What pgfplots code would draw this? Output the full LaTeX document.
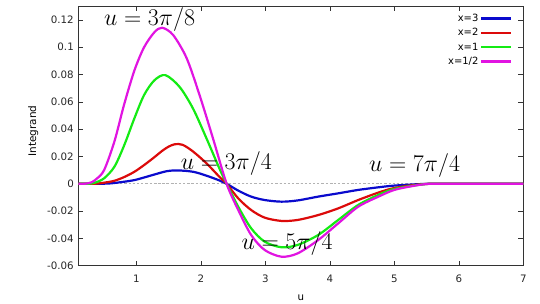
\RequirePackage{fix-cm}
\documentclass[border=0pt]{standalone}
\usepackage{fontspec}
\setmainfont{DejaVu Sans}
\usepackage{pgfplots}
\pgfplotsset{compat=1.18}
\definecolor{cblue}{RGB}{10,10,205}
\definecolor{cred}{RGB}{220,10,10}
\definecolor{cgreen}{RGB}{20,235,20}
\definecolor{cmag}{RGB}{225,20,225}
\begin{document}
\begin{tikzpicture}
\useasboundingbox (0,0) rectangle (540bp,304bp);
\begin{axis}[
  at={(78.3bp,38.3bp)}, anchor=south west,
  scale only axis, width=445bp, height=259.4bp,
  xmin=0.1, xmax=7, ymin=-0.06, ymax=0.13,
  xtick={1,2,3,4,5,6,7},
  ytick={-0.06,-0.04,-0.02,0,0.02,0.04,0.06,0.08,0.1,0.12},
  yticklabels={-0.06,-0.04,-0.02,0,0.02,0.04,0.06,0.08,0.1,0.12},
  /pgf/number format/assume math mode=true,
  tick align=inside, major tick length=5bp,
  tick style={black!80, line width=0.6bp},
  axis line style={black!80, line width=0.8bp},
  tick label style={font=\fontsize{10.3}{12}\selectfont, text=black!85},
  xticklabel style={yshift=-6bp},
  yticklabel style={xshift=-1bp},
  xlabel={u}, ylabel={Integrand},
  xlabel style={at={(axis description cs:0.5,0)}, anchor=center, yshift=-32bp, font=\fontsize{10.3}{12}\selectfont},
  ylabel style={at={(axis description cs:0,0.5)}, anchor=center, xshift=5bp, yshift=45bp, font=\fontsize{10.5}{12}\selectfont},
  legend cell align=right, legend plot pos=right,
  legend image code/.code={\draw[#1] (0bp,0bp) -- (30bp,0bp);},
  legend style={draw=none, fill=none, at={(rel axis cs:1,1)}, anchor=north east, xshift=-8bp, yshift=-4bp,
    font=\fontsize{10}{11}\selectfont, row sep=2.5bp, nodes={inner sep=1.5bp}},
  every axis plot/.append style={line width=2.2bp, smooth},
]
\addplot[gray!60, dotted, line width=0.6bp, forget plot, smooth=false] coordinates {(0.1,0) (7,0)};
\addplot[cblue] coordinates {(0.1,0) (0.4,0) (0.6,0.0003) (0.81,0.0015) (0.97,0.0027) (1.12,0.0046) (1.28,0.0068) (1.47,0.0092) (1.64,0.0098) (1.88,0.0088) (2.09,0.0059) (2.29,0.0024) (2.40,0) (2.58,-0.005) (2.78,-0.0094) (2.99,-0.0119) (3.25,-0.0131) (3.5,-0.0122) (3.82,-0.0094) (4.13,-0.007) (4.44,-0.0045) (4.75,-0.0026) (4.98,-0.0014) (5.29,-0.0005) (5.55,0) (6,0) (6.5,0) (7,0)};
\addlegendentry{x=3}
\addplot[cred] coordinates {(0.1,0) (0.35,0) (0.5,0.0008) (0.66,0.0022) (0.81,0.0049) (0.97,0.0088) (1.12,0.0137) (1.28,0.0195) (1.40,0.0241) (1.50,0.0272) (1.60,0.0290) (1.72,0.0285) (1.88,0.0236) (2.09,0.0149) (2.29,0.005) (2.40,0) (2.58,-0.0107) (2.78,-0.0192) (2.99,-0.0248) (3.25,-0.0272) (3.5,-0.0265) (3.82,-0.0229) (4.13,-0.018) (4.44,-0.0119) (4.75,-0.0065) (4.98,-0.0033) (5.29,-0.001) (5.55,0) (6,0) (6.5,0) (7,0)};
\addlegendentry{x=2}
\addplot[cgreen] coordinates {(0.1,0) (0.25,0) (0.35,0.0007) (0.5,0.004) (0.66,0.0125) (0.81,0.028) (0.97,0.048) (1.12,0.065) (1.28,0.0758) (1.45,0.0796) (1.67,0.071) (1.88,0.055) (2.09,0.033) (2.29,0.011) (2.40,0) (2.58,-0.0168) (2.78,-0.0326) (2.99,-0.0424) (3.25,-0.0465) (3.5,-0.0448) (3.82,-0.0375) (4.13,-0.0265) (4.44,-0.0155) (4.75,-0.0082) (4.98,-0.004) (5.29,-0.0014) (5.55,0) (6,0) (6.5,0) (7,0)};
\addlegendentry{x=1}
\addplot[cmag] coordinates {(0.1,0) (0.2,0) (0.3,0.001) (0.38,0.0035) (0.5,0.010) (0.66,0.031) (0.81,0.058) (0.97,0.083) (1.12,0.100) (1.28,0.111) (1.40,0.1143) (1.57,0.109) (1.78,0.092) (1.98,0.065) (2.19,0.033) (2.40,0) (2.58,-0.0192) (2.78,-0.0375) (2.99,-0.0485) (3.25,-0.0534) (3.5,-0.051) (3.82,-0.0412) (4.13,-0.029) (4.44,-0.0168) (4.75,-0.0095) (5.0,-0.0045) (5.29,-0.0016) (5.55,0) (6,0) (6.5,0) (7,0)};
\addlegendentry{x=1/2}
\node[anchor=base, font=\fontsize{24}{28}\selectfont] at (axis cs:1.206,0.116) {$u=3\pi/8$};
\node[anchor=base, font=\fontsize{24}{28}\selectfont] at (axis cs:2.395,0.0101) {$u=3\pi/4$};
\node[anchor=base, font=\fontsize{24}{28}\selectfont] at (axis cs:5.315,0.0089) {$u=7\pi/4$};
\node[anchor=base, font=\fontsize{24}{28}\selectfont] at (axis cs:3.338,-0.0485) {$u=5\pi/4$};
\end{axis}
\end{tikzpicture}
\end{document}
